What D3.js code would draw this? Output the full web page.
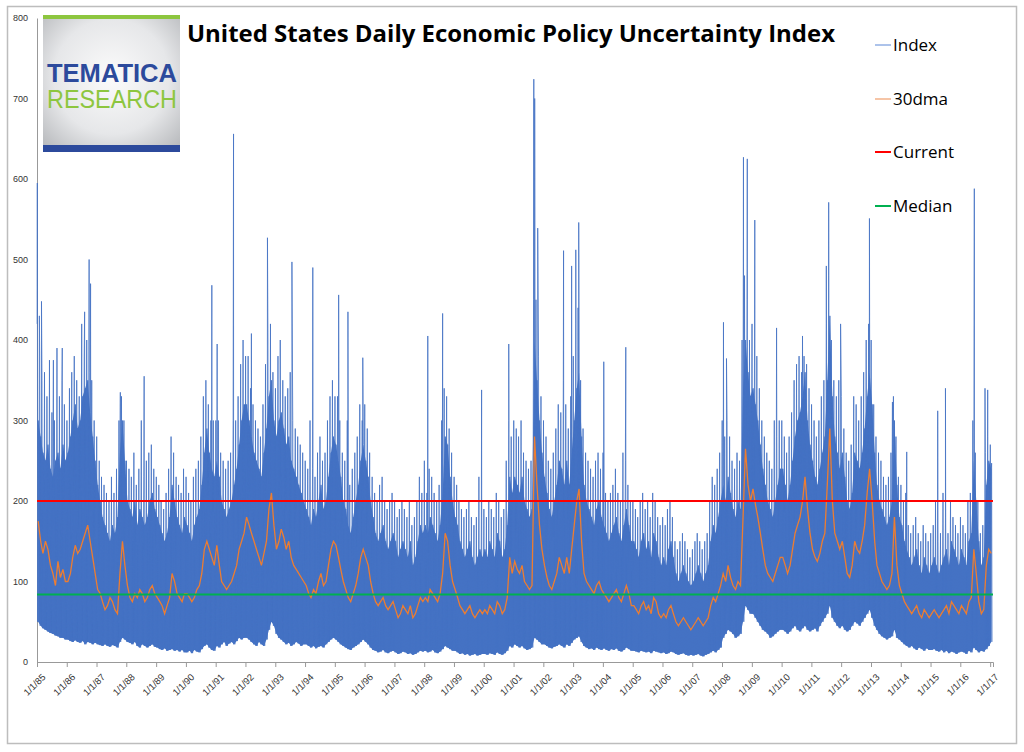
<!DOCTYPE html>
<html>
<head>
<meta charset="utf-8">
<script src="https://cdn.jsdelivr.net/npm/d3@7"></script>
<style>
  body { margin: 0; background: #fff; }
  svg { display: block; }
</style>
</head>
<body>
<svg id="chart" width="1024" height="752"></svg>
<script>
// ---------------- data ----------------
var firstYear = 1985;

// 30 day moving average, one value per month (Jan 1985 .. Jan 2017)
var ma30 = [
  175,150,135,150,140,120,110, 95,125,105,115,100, // 1985
  100,110,130,145,135,140,150,160,170,150,130,110, // 1986
   90, 85, 75, 65, 70, 80, 75, 65, 60,110,150,120, // 1987
   95, 80, 75, 85, 80, 90, 85, 75, 80, 90, 95, 85, // 1988
   80, 75, 70, 60, 70, 80,110,100, 85, 80, 75, 85, // 1989
   85, 80, 75, 80, 90, 95,110,140,150,140,130,120, // 1990
  145,120,100, 95, 90, 95,100,110,120,140,150,160, // 1991
  180,170,160,150,140,130,120,135,150,190,210,170, // 1992
  140,150,165,155,140,150,130,120,115,110,105,100, // 1993
   95, 85, 80, 90, 85,100,110, 95,100,120,140,150, // 1994
  145,130,115,100, 90, 80, 75, 85, 95,110,130,140, // 1995
  130,120,100, 85, 75, 70, 75, 80, 70, 65, 70, 75, // 1996
   65, 55, 60, 70, 65, 60, 70, 55, 60, 70, 80, 75, // 1997
   80, 75, 90, 85, 80, 75, 85,110,160,150,120,100, // 1998
   90, 80, 70, 65, 60, 65, 70, 60, 55, 60, 65, 60, // 1999
   65, 60, 70, 65, 60, 75, 70, 60, 65, 80,130,110, // 2000
  125,115,110,120,100, 95, 90, 95,280,220,170,140, // 2001
  120,105, 95, 90,100,110,130,120,110,130,110,140, // 2002
  170,200,215,150,110,100, 95, 90, 85, 95,100, 90, // 2003
   85, 80, 75, 80, 85, 90, 80, 75, 85, 95, 85, 70, // 2004
   70, 65, 60, 70, 75, 65, 70, 60, 80, 75, 60, 55, // 2005
   60, 55, 65, 70, 60, 50, 45, 50, 55, 50, 45, 40, // 2006
   45, 50, 55, 50, 45, 50, 55, 70, 80, 75, 85, 95, // 2007
  110,100,120,105, 95, 90,100, 95,180,265,220,200, // 2008
  215,195,180,160,140,120,110,105,100,110,120,130, // 2009
  130,120,110,120,140,160,170,180,200,230,190,160, // 2010
  140,130,125,135,150,160,220,290,200,160,150,140, // 2011
  150,130,110,105,120,150,140,135,150,170,210,240, // 2012
  200,150,120,110,100, 95, 90, 95,110,180,120, 95, // 2013
   85, 75, 70, 65, 60, 65, 70, 60, 55, 65, 60, 55, // 2014
   60, 65, 60, 55, 60, 65, 70, 60, 75, 70, 65, 60, // 2015
   70, 65, 60, 75, 80,140,110, 75, 60, 65,120,140, // 2016
  135                                              // 2017
];

// daily index, tallest ordinary day of each month
var indexPeak = [
  420,380,350,360,330,375,310,300,390,330,350,320, // 1985
  300,340,360,380,350,330,420,380,400,360,350,300, // 1986
  280,250,230,220,210,200,230,210,240,300,330,300, // 1987
  250,240,230,260,220,240,300,230,250,260,270,240, // 1988
  230,220,200,190,210,240,280,260,230,220,210,240, // 1989
  230,210,200,230,240,250,280,330,350,320,300,300, // 1990
  300,300,260,250,240,250,260,300,300,330,370,400, // 1991
  380,380,340,320,300,290,280,320,370,400,420,360, // 1992
  340,380,400,350,330,340,360,300,290,280,270,260, // 1993
  250,240,300,240,230,260,280,250,260,300,330,350, // 1994
  330,330,300,260,250,300,220,240,260,280,320,300, // 1995
  320,290,260,230,210,200,220,230,200,190,200,210, // 1996
  200,180,190,200,190,180,200,170,180,200,230,210, // 1997
  250,210,240,230,210,200,220,300,340,330,290,260, // 1998
  230,220,200,190,180,190,200,180,170,180,230,180, // 1999
  190,180,200,190,180,210,200,180,190,250,300,280, // 2000
  300,290,280,300,260,250,240,250,450,450,380,330, // 2001
  300,280,250,240,260,290,320,310,350,320,290,330, // 2002
  380,420,440,350,290,260,250,240,230,250,260,240, // 2003
  260,210,200,210,220,240,210,200,260,250,220,200, // 2004
  200,190,180,200,210,190,200,180,210,200,180,170, // 2005
  180,170,190,200,180,150,140,150,160,150,140,130, // 2006
  140,150,160,150,140,150,160,200,230,220,240,260, // 2007
  300,280,300,280,250,240,260,250,400,480,450,400, // 2008
  420,400,380,340,300,280,260,250,240,300,280,300, // 2009
  300,280,260,280,310,350,370,380,360,380,370,340, // 2010
  320,300,280,300,330,350,420,480,400,350,330,350, // 2011
  330,290,260,250,270,330,320,300,330,360,400,420, // 2012
  400,320,280,260,250,230,220,230,260,330,280,230, // 2013
  220,200,210,170,160,170,180,160,150,170,160,150, // 2014
  160,170,200,150,160,210,180,160,200,180,170,160, // 2015
  180,170,160,200,210,300,260,200,160,170,260,280, // 2016
  270                                              // 2017
];

// daily index, top of the dense band per month
var indexHigh = [
  300,280,260,250,270,240,230,250,260,240,270,250, // 1985
  260,280,300,320,290,300,330,340,350,310,280,250, // 1986
  220,200,180,170,160,150,170,160,180,260,300,250, // 1987
  200,190,180,200,170,190,180,170,180,200,210,190, // 1988
  180,170,160,150,160,180,220,200,180,170,160,180, // 1989
  170,160,150,170,180,190,220,260,290,260,240,230, // 1990
  250,230,200,190,180,190,200,220,240,270,300,320, // 1991
  320,300,280,260,250,240,230,260,290,330,350,300, // 1992
  280,300,310,290,270,280,250,240,230,220,210,200, // 1993
  190,180,170,190,180,200,220,190,200,230,260,280, // 1994
  270,250,230,200,190,170,160,180,200,220,250,270, // 1995
  250,230,200,180,160,150,160,170,150,140,150,160, // 1996
  150,130,140,150,140,130,150,120,130,150,170,160, // 1997
  170,160,180,170,160,150,170,210,280,270,230,200, // 1998
  180,170,150,140,130,140,150,130,120,130,140,130, // 1999
  140,130,150,140,130,160,150,130,140,170,230,210, // 2000
  230,220,210,230,200,190,180,190,400,350,300,260, // 2001
  230,210,190,180,200,220,250,240,220,250,220,260, // 2002
  300,340,360,280,220,200,190,180,170,190,200,180, // 2003
  170,160,150,160,170,180,160,150,170,190,170,150, // 2004
  150,140,130,150,160,140,150,130,160,150,130,120, // 2005
  130,120,140,150,130,110,100,110,120,110,100, 95, // 2006
  100,110,120,110,100,110,120,150,170,160,180,200, // 2007
  220,200,230,210,190,180,200,190,340,400,360,330, // 2008
  340,320,300,270,240,220,200,190,180,200,220,240, // 2009
  240,220,200,220,250,280,300,310,330,360,300,270, // 2010
  250,230,220,240,260,280,350,430,330,280,260,240, // 2011
  260,230,200,190,210,260,250,240,260,290,330,360, // 2012
  320,260,220,200,190,180,170,180,200,300,220,180, // 2013
  170,150,140,130,120,130,140,120,110,130,120,110, // 2014
  120,130,120,110,120,130,140,120,150,140,130,120, // 2015
  140,130,120,150,160,250,200,150,120,130,220,250, // 2016
  240                                              // 2017
];

// daily index, bottom of the dense band per month
var indexLow = [
   50, 45, 42, 40, 38, 36, 35, 33, 32, 30, 30, 28, // 1985
   28, 26, 25, 27, 25, 24, 26, 22, 25, 24, 22, 24, // 1986
   22, 21, 20, 22, 20, 19, 21, 20, 18, 25, 30, 28, // 1987
   25, 24, 22, 25, 20, 18, 22, 20, 18, 20, 22, 19, // 1988
   18, 16, 15, 17, 14, 15, 16, 14, 15, 13, 15, 12, // 1989
   12, 14, 11, 15, 13, 12, 16, 20, 22, 18, 15, 14, // 1990
   20, 18, 22, 25, 20, 23, 25, 22, 26, 30, 28, 30, // 1991
   30, 28, 25, 22, 20, 25, 22, 20, 28, 40, 50, 45, // 1992
   35, 30, 28, 25, 22, 24, 20, 22, 25, 23, 20, 22, // 1993
   22, 20, 18, 20, 17, 19, 20, 18, 22, 25, 28, 30, // 1994
   28, 25, 22, 20, 18, 16, 15, 18, 20, 22, 25, 28, // 1995
   25, 22, 18, 15, 14, 12, 13, 15, 12, 11, 13, 14, // 1996
   12, 10, 11, 13, 12, 10, 11,  9, 10, 12, 14, 13, // 1997
   14, 12, 13, 15, 12, 11, 13, 16, 20, 18, 16, 14, // 1998
   14, 12, 10, 11,  9, 10,  8,  9, 10,  8,  9, 10, // 1999
   10,  9, 11, 10,  9, 12, 10,  9, 11, 14, 20, 18, // 2000
   22, 20, 18, 20, 17, 15, 16, 18, 30, 28, 25, 22, // 2001
   22, 20, 18, 17, 19, 20, 22, 20, 18, 22, 20, 24, // 2002
   28, 30, 32, 25, 20, 18, 16, 17, 15, 18, 16, 15, // 2003
   17, 15, 14, 16, 15, 17, 14, 13, 15, 18, 16, 14, // 2004
   14, 13, 12, 14, 13, 12, 13, 11, 14, 13, 12, 11, // 2005
   12, 10, 11, 13, 12, 10,  9, 10, 11,  9,  8,  9, // 2006
    8,  9, 10,  8,  7,  9, 10, 12, 14, 12, 15, 18, // 2007
   30, 35, 40, 38, 35, 30, 32, 35, 50, 70, 65, 60, // 2008
   60, 55, 50, 45, 40, 38, 35, 30, 32, 35, 38, 40, // 2009
   40, 38, 35, 38, 42, 45, 40, 38, 42, 45, 40, 38, // 2010
   40, 42, 38, 45, 50, 55, 60, 70, 55, 50, 45, 42, // 2011
   45, 40, 38, 40, 45, 50, 48, 45, 50, 55, 60, 65, // 2012
   55, 45, 40, 35, 32, 30, 28, 30, 32, 40, 30, 28, // 2013
   25, 22, 20, 18, 20, 17, 15, 18, 16, 14, 17, 15, // 2014
   15, 16, 14, 13, 15, 12, 14, 11, 13, 12, 10, 12, // 2015
   13, 12, 10, 14, 12, 18, 15, 12, 14, 13, 16, 20, // 2016
   25                                              // 2017
];

// single-day spikes above the band (decimal year, value)
var spikeDates = [1985.01, 1985.08, 1985.15, 1985.55, 1985.85, 1986.6, 1986.75, 1986.8,
  1987.8, 1988.6, 1990.87, 1991.05, 1991.6, 1992.2, 1992.74, 1993.56, 1994.26, 1995.13,
  1995.44, 1995.94, 1998.12, 1998.62, 1999.93, 2000.84, 2001.68, 2001.71, 2001.81,
  2002.68, 2002.95, 2003.09, 2003.19, 2004.03, 2004.77, 2008.05, 2008.15, 2008.72,
  2008.85, 2009.1, 2009.83, 2010.7, 2011.5, 2011.58, 2011.98, 2012.95, 2013.72,
  2014.2, 2015.24, 2015.5, 2016.47, 2016.83, 2016.92, 2017.05];
var spikeValues = [595, 430, 448, 375, 390, 435, 500, 470,
  335, 355, 468, 395, 656, 408, 527, 497, 490, 456,
  435, 378, 405, 433, 338, 395, 724, 700, 539,
  511, 492, 512, 546, 373, 391, 422, 377, 627,
  625, 549, 415, 405, 492, 571, 420, 551, 323,
  261, 312, 340, 588, 340, 338, 247];

var currentValue = 200;
var medianValue = 84;
var yTicks = [0, 100, 200, 300, 400, 500, 600, 700, 800];

var legendNames = ['Index', '30dma', 'Current', 'Median'];
var legendColors = ['#5b87d6', '#ed8b4f', '#ff0000', '#00b050'];

// ---------------- build series ----------------
function monthDate(i, day) {
  return new Date(firstYear + Math.floor(i / 12), i % 12, day);
}
function decDate(d) {
  var yr = Math.floor(d);
  return new Date(yr, 0, 1 + Math.round((d - yr) * 365));
}

var bandSeries = indexHigh.map(function (v, i) {
  return { date: monthDate(i, 15), high: v, low: indexLow[i] };
});

// zig-zag through each month: tall day, low, band top, low
var indexSeries = [];
for (var i = 0; i < indexHigh.length; i++) {
  indexSeries.push({ date: monthDate(i, 3), value: indexPeak[i] });
  indexSeries.push({ date: monthDate(i, 9), value: indexLow[i] });
  indexSeries.push({ date: monthDate(i, 16), value: indexHigh[i] });
  indexSeries.push({ date: monthDate(i, 24), value: indexLow[i] });
}
spikeDates.forEach(function (d, k) {
  indexSeries.push({ date: decDate(d), value: spikeValues[k] });
});
indexSeries.sort(function (a, b) { return a.date - b.date; });

var maSeries = ma30.map(function (v, i) { return { date: monthDate(i, 15), value: v }; });

// ---------------- drawing ----------------
var svg = d3.select('#chart');

svg.append('rect')
  .attr('x', 7.5).attr('y', 6.5)
  .attr('width', 1009).attr('height', 737)
  .attr('fill', '#fff')
  .attr('stroke', '#bdbdbd')
  .attr('stroke-width', 1.5);

var x = d3.scaleTime()
  .domain([new Date(1985, 0, 1), new Date(2017, 1, 5)])
  .range([37, 993]);
var y = d3.scaleLinear().domain([0, 800]).range([662, 18]);

// axes
var yAxis = svg.append('g')
  .attr('transform', 'translate(37,0)')
  .call(d3.axisLeft(y).tickValues(yTicks).tickSize(0).tickPadding(9));
yAxis.select('.domain').attr('stroke', '#999');
yAxis.selectAll('text')
  .attr('font-family', 'Liberation Sans, Arial, sans-serif')
  .attr('font-size', 9).attr('fill', '#333');

var xAxis = svg.append('g')
  .attr('transform', 'translate(0,662)')
  .call(d3.axisBottom(x)
    .ticks(d3.timeYear.every(1))
    .tickSize(5)
    .tickFormat(d3.timeFormat('%-m/%-d/%y')));
xAxis.select('.domain').attr('stroke', '#999');
xAxis.selectAll('line').attr('stroke', '#999');
xAxis.selectAll('text')
  .attr('font-family', 'Liberation Sans, Arial, sans-serif')
  .attr('font-size', 9.5).attr('fill', '#333')
  .attr('text-anchor', 'end')
  .attr('dx', 0).attr('dy', 0)
  .attr('transform', 'translate(3,10) rotate(-45)');

var line = d3.line()
  .x(function (d) { return x(d.date); })
  .y(function (d) { return y(d.value); });

// dense part of the daily index
var band = d3.area()
  .x(function (d) { return x(d.date); })
  .y0(function (d) { return y(d.low); })
  .y1(function (d) { return y(d.high); });

svg.append('path')
  .datum(bandSeries)
  .attr('d', band)
  .attr('fill', '#4472c4');

svg.append('path')
  .datum(indexSeries)
  .attr('d', line)
  .attr('fill', 'none')
  .attr('stroke', '#4472c4')
  .attr('stroke-opacity', 0.9)
  .attr('stroke-width', 0.9);

svg.append('path')
  .datum(maSeries)
  .attr('d', line)
  .attr('fill', 'none')
  .attr('stroke', '#ed7d31')
  .attr('stroke-width', 1.3);

svg.append('line')
  .attr('x1', 37).attr('x2', 993)
  .attr('y1', y(currentValue)).attr('y2', y(currentValue))
  .attr('stroke', '#ff0000').attr('stroke-width', 2);

svg.append('line')
  .attr('x1', 37).attr('x2', 993)
  .attr('y1', y(medianValue)).attr('y2', y(medianValue))
  .attr('stroke', '#00b050').attr('stroke-width', 2);

// logo
var defs = svg.append('defs');
var grad = defs.append('radialGradient').attr('id', 'logoBg')
  .attr('cx', '50%').attr('cy', '45%').attr('r', '70%');
grad.append('stop').attr('offset', '0%').attr('stop-color', '#fbfbfb');
grad.append('stop').attr('offset', '60%').attr('stop-color', '#e6e7e9');
grad.append('stop').attr('offset', '100%').attr('stop-color', '#b9bbbe');

var logo = svg.append('g');
logo.append('rect').attr('x', 43).attr('y', 15).attr('width', 137).attr('height', 137)
  .attr('fill', 'url(#logoBg)');
logo.append('rect').attr('x', 43).attr('y', 15).attr('width', 137).attr('height', 4)
  .attr('fill', '#8dc63f');
logo.append('rect').attr('x', 43).attr('y', 145).attr('width', 137).attr('height', 7)
  .attr('fill', '#2c4a9c');
logo.append('text').text('TEMATICA')
  .attr('x', 47).attr('y', 82)
  .attr('font-family', 'Liberation Sans Narrow, Liberation Sans, Arial, sans-serif')
  .attr('font-weight', 'bold').attr('font-size', 25)
  .attr('fill', '#2c4a9c')
  .attr('textLength', 130).attr('lengthAdjust', 'spacingAndGlyphs');
logo.append('text').text('RESEARCH')
  .attr('x', 47).attr('y', 108)
  .attr('font-family', 'Liberation Sans Narrow, Liberation Sans, Arial, sans-serif')
  .attr('font-size', 25)
  .attr('fill', '#8dc63f')
  .attr('textLength', 130).attr('lengthAdjust', 'spacingAndGlyphs');

// title
svg.append('text')
  .text('United States Daily Economic Policy Uncertainty Index')
  .attr('x', 187).attr('y', 42)
  .attr('font-family', 'Open Sans, Liberation Sans, sans-serif')
  .attr('font-weight', 'bold').attr('font-size', 23)
  .attr('fill', '#000')
  .attr('textLength', 648).attr('lengthAdjust', 'spacingAndGlyphs');

// legend
var legendY = [45, 99, 152, 206];
var legend = svg.append('g');
legendNames.forEach(function (name, k) {
  legend.append('line')
    .attr('x1', 875).attr('x2', 891)
    .attr('y1', legendY[k]).attr('y2', legendY[k])
    .attr('stroke', legendColors[k])
    .attr('stroke-width', k < 2 ? 1 : 2);
  legend.append('text').text(name)
    .attr('x', 893).attr('y', legendY[k] + 6)
    .attr('font-family', 'Open Sans, Liberation Sans, sans-serif')
    .attr('font-size', 17).attr('fill', '#000');
});
</script>
</body>
</html>
